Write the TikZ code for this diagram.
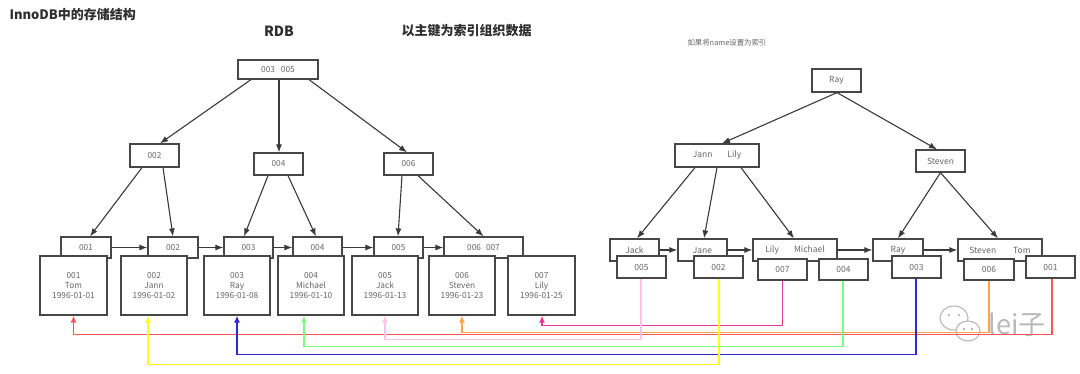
\documentclass[tikz,border=0pt]{standalone}
\usepackage{fontspec}
\setmainfont{Noto Sans CJK SC}
\usetikzlibrary{arrows.meta,calc}
\definecolor{boxline}{HTML}{474747}
\definecolor{arrgray}{HTML}{3A3A3A}
\definecolor{txtgray}{HTML}{666666}
\definecolor{titlegray}{HTML}{2E2E2E}
\definecolor{wmgray}{HTML}{B8B8B8}
\definecolor{lred}{HTML}{FF5555}
\definecolor{lorange}{HTML}{FFA347}
\definecolor{lmagenta}{HTML}{E6399B}
\definecolor{lpink}{HTML}{FFC4E4}
\definecolor{lgreen}{HTML}{80FA80}
\definecolor{lblue}{HTML}{2A2AD0}
\definecolor{lyellow}{HTML}{FFFF1A}
\begin{document}
\begin{tikzpicture}[x=1pt,y=-1pt,
  box/.style={draw=boxline, line width=1.2pt, fill=white, inner sep=0pt,
    font=\fontsize{8.3}{10}\selectfont, text=txtgray, align=center},
  rbox/.style={box, font=\fontsize{8.5}{10}\selectfont},
  arr/.style={draw=arrgray, line width=1.1pt, -{Latex[length=8pt,width=6pt]}},
  link/.style={line width=1.4pt, -{Latex[length=7pt,width=6pt]}},
  title/.style={font=\fontsize{13}{15}\selectfont\bfseries, text=titlegray}]
\fill[white] (0,0) rectangle (1080,374);
\useasboundingbox (0,0) rectangle (1080,374);

% titles
\node[title, anchor=west] (t1) at (6,15) {InnoDB中的存储结构};
\node[title, font=\fontsize{14}{16}\selectfont\bfseries] (t2) at (279,31) {RDB};
\node[title, anchor=west] (t3) at (398,31) {以主键为索引组织数据};
\node[text=txtgray, font=\fontsize{7.4}{9}\selectfont, anchor=west] (t4) at (684,43) {如果将name设置为索引};

% ---------- left tree ----------
\node[box, minimum width=80pt, minimum height=19pt] (root) at (278,69.5) {003\hspace{6pt}005};
\node[box, minimum width=49pt, minimum height=23pt] (n002) at (154.5,155.5) {002};
\node[box, minimum width=49pt, minimum height=22pt] (n004) at (278.5,164) {004};
\node[box, minimum width=49pt, minimum height=22pt] (n006) at (408.5,164) {006};

% key row
\node[box, minimum width=50pt, minimum height=21pt] (k001) at (86,247.5) {001};
\node[box, minimum width=50pt, minimum height=21pt] (k002) at (173,247.5) {002};
\node[box, minimum width=49pt, minimum height=21pt] (k003) at (248.5,247.5) {003};
\node[box, minimum width=49pt, minimum height=21pt] (k004) at (317.5,247.5) {004};
\node[box, minimum width=49pt, minimum height=21pt] (k005) at (398.5,247.5) {005};
\node[box, minimum width=79pt, minimum height=21pt] (k67) at (483.5,247.5) {006\hspace{5pt}007};

% data row
\node[box, minimum width=67pt, minimum height=59pt] (d001) at (73.5,285.5) {001\\Tom\\1996-01-01};
\node[box, minimum width=66pt, minimum height=59pt] (d002) at (154,285.5) {002\\Jann\\1996-01-02};
\node[box, minimum width=66pt, minimum height=59pt] (d003) at (237,285.5) {003\\Ray\\1996-01-08};
\node[box, minimum width=66pt, minimum height=59pt] (d004) at (311,285.5) {004\\Michael\\1996-01-10};
\node[box, minimum width=66pt, minimum height=59pt] (d005) at (385,285.5) {005\\Jack\\1996-01-13};
\node[box, minimum width=66pt, minimum height=59pt] (d006) at (462,285.5) {006\\Steven\\1996-01-23};
\node[box, minimum width=67pt, minimum height=59pt] (d007) at (541.5,285.5) {007\\Lily\\1996-01-25};

% left tree arrows
\draw[arr] ([xshift=-27pt]root.south) -- ([xshift=5.5pt]n002.north);
\draw[arr] ([xshift=1pt]root.south) -- ([xshift=0.5pt]n004.north);
\draw[arr] ([xshift=31pt]root.south) -- ([xshift=-1.5pt]n006.north);
\draw[arr] ([xshift=-12.5pt]n002.south) -- ([xshift=4pt]k001.north);
\draw[arr] ([xshift=8.5pt]n002.south) -- (k002.north);
\draw[arr] ([xshift=-10.5pt]n004.south) -- ([xshift=-4.5pt]k003.north);
\draw[arr] ([xshift=9.5pt]n004.south) -- ([xshift=-1.5pt]k004.north);
\draw[arr] ([xshift=-6.5pt]n006.south) -- ([xshift=-0.5pt]k005.north);
\draw[arr] ([xshift=9.5pt]n006.south) -- (k67.north);
\draw[arr] (k001.east) -- (k002.west);
\draw[arr] (k002.east) -- (k003.west);
\draw[arr] (k003.east) -- (k004.west);
\draw[arr] (k004.east) -- (k005.west);
\draw[arr] (k005.east) -- (k67.west);

% ---------- right tree ----------
\node[rbox, minimum width=49pt, minimum height=23pt] (ray) at (836.5,80.5) {Ray};
\node[rbox, minimum width=84pt, minimum height=23pt] (jl) at (717,155.5) {Jann\hspace{15pt}Lily};
\node[rbox, minimum width=49pt, minimum height=22pt] (stv) at (940.5,161) {Steven};

\node[rbox, minimum width=49pt, minimum height=22pt] (kJack) at (634.5,250) {Jack};
\node[rbox, minimum width=49pt, minimum height=22pt] (kJane) at (702.5,250) {Jane};
\node[rbox, minimum width=84pt, minimum height=22pt] (kLM) at (795,250) {Lily\hspace{15pt}Michael};
\node[rbox, minimum width=50pt, minimum height=22pt] (kRay) at (898,250) {Ray};
\node[rbox, minimum width=84pt, minimum height=22pt] (kST) at (1000,250) {Steven\hspace{17pt}Tom};

\node[rbox, minimum width=49pt, minimum height=22pt] (v005) at (641.5,267) {005};
\node[rbox, minimum width=49pt, minimum height=22pt] (v002) at (718.5,267) {002};
\node[rbox, minimum width=49pt, minimum height=21pt] (v007) at (782.5,269.5) {007};
\node[rbox, minimum width=49pt, minimum height=21pt] (v004) at (843.5,269.5) {004};
\node[rbox, minimum width=49pt, minimum height=22pt] (v003) at (916.5,267) {003};
\node[rbox, minimum width=50pt, minimum height=21pt] (v006) at (989,269.5) {006};
\node[rbox, minimum width=49pt, minimum height=22pt] (v001) at (1050.5,267) {001};

% right tree arrows
\draw[arr] ([xshift=0.5pt]ray.south) -- ([xshift=5pt]jl.north);
\draw[arr] ([xshift=0.5pt]ray.south) -- ([xshift=-3.5pt]stv.north);
\draw[arr] ([xshift=-22pt]jl.south) -- ([xshift=2.5pt]kJack.north);
\draw[arr] (jl.south) -- ([xshift=1.5pt]kJane.north);
\draw[arr] ([xshift=24pt]jl.south) -- ([xshift=-1pt]kLM.north);
\draw[arr] (stv.south) -- (kRay.north);
\draw[arr] (stv.south) -- ([xshift=-2pt]kST.north);
\draw[arr] (kJack.east) -- (kJane.west);
\draw[arr] (kJane.east) -- (kLM.west);
\draw[arr] (kLM.east) -- (kRay.west);
\draw[arr] (kRay.east) -- (kST.west);

% ---------- watermark ----------
\draw[wmgray, line width=1.1pt, fill=white] (954,318) ellipse [x radius=14, y radius=12];
\fill[wmgray] (949,315) circle (1.4) (959,315) circle (1.4);
\draw[wmgray, line width=1.1pt, fill=white] (968,331) ellipse [x radius=12, y radius=10];
\fill[wmgray] (964,329) circle (1.3) (972,329) circle (1.3);
\node[text=wmgray, font=\fontsize{27}{27}\selectfont, anchor=west] (wm) at (985,325) {lei子};

% ---------- colour links ----------
\draw[link, lred] ([xshift=1.5pt]v001.south) -- ++(0,56) -| (d001.south);
\draw[link, lorange] (v006.south) -- ++(0,52) -| (d006.south);
\draw[link, lmagenta] (v007.south) -- ++(0,45) -| ([xshift=0.5pt]d007.south);
\draw[link, lpink] ([xshift=-0.5pt]v005.south) -- ++(0,61) -| (d005.south);
\draw[link, lgreen] ([xshift=-0.5pt]v004.south) -- ++(0,66) -| ([xshift=-7pt]d004.south);
\draw[link, lblue] ([xshift=-0.5pt]v003.south) -- ++(0,76) -| (d003.south);
\draw[link, lyellow] ([xshift=0.5pt]v002.south) -- ++(0,86) -| ([xshift=-6pt]d002.south);
\end{tikzpicture}
\end{document}
